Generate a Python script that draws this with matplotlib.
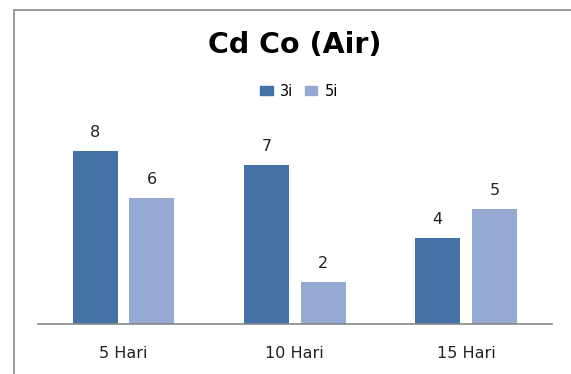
import matplotlib
matplotlib.use("Agg")
import matplotlib.pyplot as plt
import numpy as np
from matplotlib.patches import Rectangle, Patch

categories = ["5 Hari", "10 Hari", "15 Hari"]
series_names = ["3i", "5i"]
values_3i = [8.08, 7.42, 4.02]
values_5i = [5.87, 1.96, 5.39]
title = "Cd Co (Air)"

c3 = "#4471A6"
c5 = "#94AAD2"

fig = plt.figure(figsize=(5.71, 3.74), dpi=100)
fig.patch.set_facecolor("white")

# chart area border
fig.patches.append(Rectangle((13.5 / 571, -0.1), 1.2, (1 - 10.5 / 374) + 0.1,
                             transform=fig.transFigure, fill=False,
                             edgecolor="#8C8C8C", linewidth=1.2))

ax = fig.add_axes([38 / 571, 1 - 324 / 374, (551.7 - 38) / 571, (324 - 110) / 374])
x = np.arange(len(categories))
w = 0.263
off = w / 2 + 0.034
b1 = ax.bar(x - off, values_3i, w, color=c3, label=series_names[0])
b2 = ax.bar(x + off, values_5i, w, color=c5, label=series_names[1])

for bars in (b1, b2):
    for r in bars:
        ax.annotate(f"{r.get_height():.0f}", (r.get_x() + r.get_width() / 2, r.get_height()),
                    xytext=(0, 11), textcoords="offset pixels",
                    ha="center", va="bottom", fontsize=11.5, color="#222222")

ax.set_xlim(-0.5, 2.5)
ax.set_ylim(0, 10)
ax.set_yticks([])
ax.set_xticks(x)
ax.set_xticklabels(categories, fontsize=11.5, color="#222222")
ax.tick_params(axis="x", length=0, pad=16)
for s in ("top", "right", "left"):
    ax.spines[s].set_visible(False)
ax.spines["bottom"].set_color("#888888")
ax.spines["bottom"].set_linewidth(1.2)

fig.text(294.7 / 571, 1 - 45 / 374, title, ha="center", va="center",
         fontsize=20.5, fontweight="bold", color="black")

handles = [Patch(color=c3), Patch(color=c5)]
fig.legend(handles, series_names, loc="center", bbox_to_anchor=(299 / 571, 1 - 91.5 / 374),
           ncol=2, frameon=False, fontsize=10.5, handlelength=0.85, handleheight=0.6,
           handletextpad=0.5, columnspacing=0.8)

fig.savefig("out.png", dpi=100)
